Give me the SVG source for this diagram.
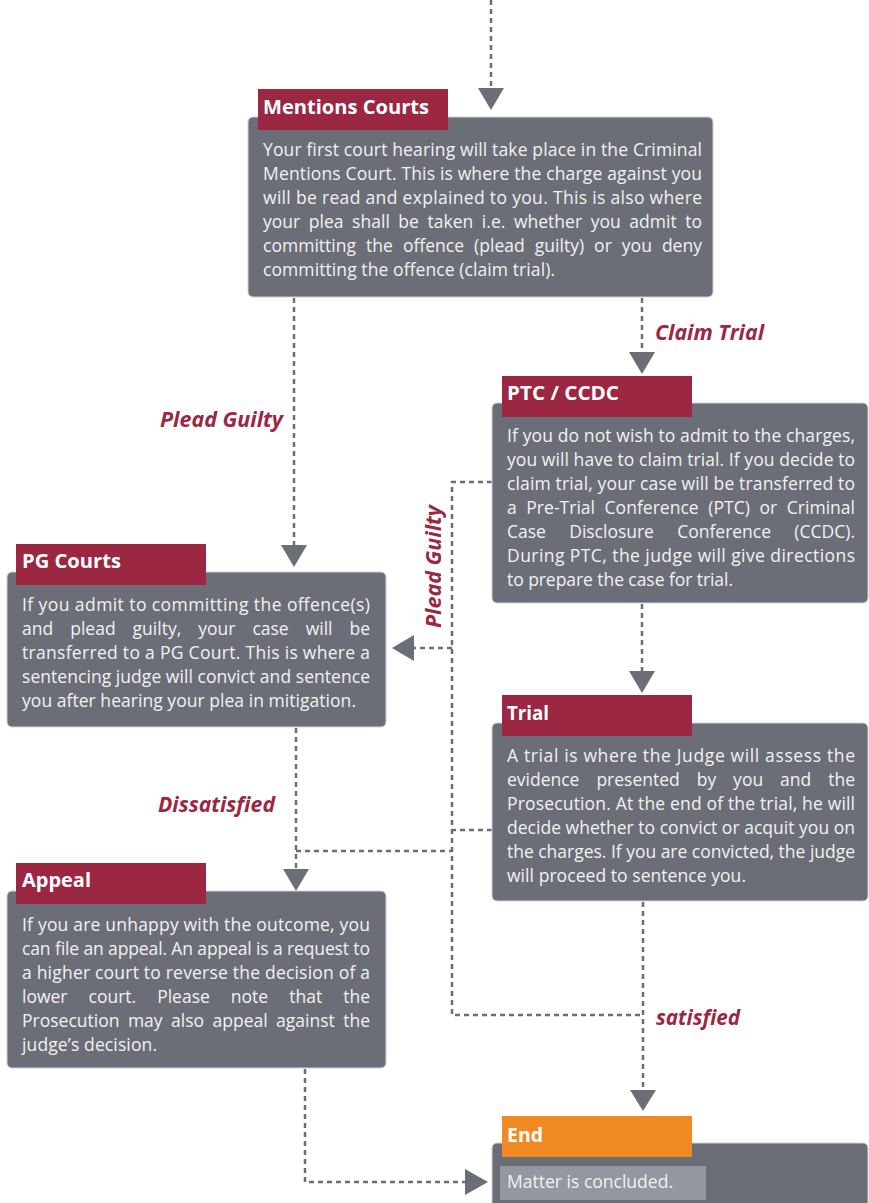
<svg xmlns="http://www.w3.org/2000/svg" width="869" height="1203" viewBox="0 0 869 1203">
<style>
.box{fill:#6b6e76;stroke:#cfd1d4;stroke-width:1}
.ttl{fill:#9b2743}
.t{font-family:"Open Sans","Noto Sans",sans-serif;font-weight:700;font-size:20px;fill:#ffffff}
.b{font-family:"Open Sans","Noto Sans",sans-serif;font-size:17.5px;fill:#f1f1f1}
.lbl{font-family:"Open Sans","Noto Sans",sans-serif;font-weight:700;font-style:italic;font-size:20.5px;fill:#9b2743}
.dash{fill:none;stroke:#6b6e76;stroke-width:2.5;stroke-dasharray:5 4}
.ah{fill:#6b6e76}
</style>
<rect width="869" height="1203" fill="#ffffff"/>
<g id="connectors">
  <path class="dash" d="M491,0 V88"/>
  <polygon class="ah" points="478,88 504,88 491,110"/>
  <path class="dash" d="M294,298 V545"/>
  <polygon class="ah" points="281,545 307,545 294,567"/>
  <text class="lbl" x="160" y="427" textLength="123" lengthAdjust="spacingAndGlyphs">Plead Guilty</text>
  <path class="dash" d="M642,298 V352"/>
  <polygon class="ah" points="629,352 655,352 642,374"/>
  <text class="lbl" x="655" y="340" textLength="109" lengthAdjust="spacingAndGlyphs">Claim Trial</text>
  <path class="dash" d="M492,482 H452 V1015 H643"/>
  <path class="dash" d="M492,830 H452"/>
  <path class="dash" d="M452,648 H414"/>
  <polygon class="ah" points="414,635 414,661 392,648"/>
  <text class="lbl" transform="translate(441,628) rotate(-90)" textLength="123" lengthAdjust="spacingAndGlyphs">Plead Guilty</text>
  <path class="dash" d="M642,604 V671"/>
  <polygon class="ah" points="629,671 655,671 642,693"/>
  <path class="dash" d="M296,728 V869"/>
  <polygon class="ah" points="283,869 309,869 296,891"/>
  <text class="lbl" x="158" y="812" textLength="117" lengthAdjust="spacingAndGlyphs">Dissatisfied</text>
  <path class="dash" d="M296,851 H452"/>
  <path class="dash" d="M643,902 V1090"/>
  <polygon class="ah" points="630,1090 656,1090 643,1111"/>
  <text class="lbl" x="656" y="1025" textLength="84" lengthAdjust="spacingAndGlyphs">satisfied</text>
  <path class="dash" d="M305,1069 V1182 H465"/>
  <polygon class="ah" points="465,1169 465,1195 488,1182"/>
</g>
<g id="mentions">
  <rect class="box" x="248" y="117" width="465" height="180" rx="5"/>
  <rect class="ttl" x="258" y="89" width="190" height="41"/>
  <text class="t" x="263" y="114" textLength="166" lengthAdjust="spacingAndGlyphs">Mentions Courts</text>
  <text class="b" x="263" y="156" textLength="439" lengthAdjust="spacing">Your first court hearing will take place in the Criminal</text>
  <text class="b" x="263" y="180" textLength="439" lengthAdjust="spacing">Mentions Court. This is where the charge against you</text>
  <text class="b" x="263" y="204" textLength="439" lengthAdjust="spacing">will be read and explained to you. This is also where</text>
  <text class="b" x="263" y="228" word-spacing="4" textLength="439" lengthAdjust="spacing">your plea shall be taken i.e. whether you admit to</text>
  <text class="b" x="263" y="252" word-spacing="5.4" textLength="439" lengthAdjust="spacing">committing the offence (plead guilty) or you deny</text>
  <text class="b" x="263" y="276" textLength="292" lengthAdjust="spacing">committing the offence (claim trial).</text>
</g>
<g id="ptc">
  <rect class="box" x="492" y="403" width="376" height="200" rx="5"/>
  <rect class="ttl" x="502" y="376" width="190" height="41"/>
  <text class="t" x="507" y="400" textLength="112" lengthAdjust="spacingAndGlyphs">PTC / CCDC</text>
  <text class="b" x="507" y="442" textLength="348" lengthAdjust="spacing">If you do not wish to admit to the charges,</text>
  <text class="b" x="507" y="466" textLength="348" lengthAdjust="spacing">you will have to claim trial. If you decide to</text>
  <text class="b" x="507" y="490" textLength="348" lengthAdjust="spacing">claim trial, your case will be transferred to</text>
  <text class="b" x="507" y="514" word-spacing="5" textLength="348" lengthAdjust="spacing">a Pre-Trial Conference (PTC) or Criminal</text>
  <text class="b" x="507" y="538" word-spacing="18.8" textLength="348" lengthAdjust="spacing">Case Disclosure Conference (CCDC).</text>
  <text class="b" x="507" y="562" textLength="348" lengthAdjust="spacing">During PTC, the judge will give directions</text>
  <text class="b" x="507" y="586" textLength="226" lengthAdjust="spacing">to prepare the case for trial.</text>
</g>
<g id="pg">
  <rect class="box" x="7" y="572" width="379" height="155" rx="5"/>
  <rect class="ttl" x="16" y="544" width="190" height="41"/>
  <text class="t" x="22" y="568" textLength="99" lengthAdjust="spacingAndGlyphs">PG Courts</text>
  <text class="b" x="22" y="611" textLength="348" lengthAdjust="spacing">If you admit to committing the offence(s)</text>
  <text class="b" x="22" y="635" word-spacing="12.4" textLength="348" lengthAdjust="spacing">and plead guilty, your case will be</text>
  <text class="b" x="22" y="659" textLength="348" lengthAdjust="spacing">transferred to a PG Court. This is where a</text>
  <text class="b" x="22" y="683" textLength="348" lengthAdjust="spacing">sentencing judge will convict and sentence</text>
  <text class="b" x="22" y="707" textLength="334" lengthAdjust="spacing">you after hearing your plea in mitigation.</text>
</g>
<g id="trial">
  <rect class="box" x="492" y="723" width="376" height="178" rx="5"/>
  <rect class="ttl" x="502" y="695" width="190" height="41"/>
  <text class="t" x="507" y="720" textLength="42" lengthAdjust="spacingAndGlyphs">Trial</text>
  <text class="b" x="507" y="762" textLength="348" lengthAdjust="spacing">A trial is where the Judge will assess the</text>
  <text class="b" x="507" y="786" word-spacing="12.4" textLength="348" lengthAdjust="spacing">evidence presented by you and the</text>
  <text class="b" x="507" y="810" textLength="348" lengthAdjust="spacing">Prosecution. At the end of the trial, he will</text>
  <text class="b" x="507" y="834" textLength="348" lengthAdjust="spacing">decide whether to convict or acquit you on</text>
  <text class="b" x="507" y="858" textLength="348" lengthAdjust="spacing">the charges. If you are convicted, the judge</text>
  <text class="b" x="507" y="882" textLength="239" lengthAdjust="spacing">will proceed to sentence you.</text>
</g>
<g id="appeal">
  <rect class="box" x="7" y="891" width="379" height="177" rx="5"/>
  <rect class="ttl" x="16" y="863" width="190" height="41"/>
  <text class="t" x="22" y="887" textLength="69" lengthAdjust="spacingAndGlyphs">Appeal</text>
  <text class="b" x="22" y="931" textLength="348" lengthAdjust="spacing">If you are unhappy with the outcome, you</text>
  <text class="b" x="22" y="955" textLength="348" lengthAdjust="spacing">can file an appeal. An appeal is a request to</text>
  <text class="b" x="22" y="979" textLength="348" lengthAdjust="spacing">a higher court to reverse the decision of a</text>
  <text class="b" x="22" y="1003" word-spacing="16.5" textLength="348" lengthAdjust="spacing">lower court. Please note that the</text>
  <text class="b" x="22" y="1027" word-spacing="3.8" textLength="348" lengthAdjust="spacing">Prosecution may also appeal against the</text>
  <text class="b" x="22" y="1051" textLength="135" lengthAdjust="spacing">judge’s decision.</text>
</g>
<g id="end">
  <rect class="box" x="492" y="1143" width="376" height="80" rx="5"/>
  <rect x="502" y="1116" width="190" height="41" fill="#f28a24"/>
  <text class="t" x="507" y="1142" textLength="36" lengthAdjust="spacingAndGlyphs">End</text>
  <rect x="500" y="1166" width="206" height="34" fill="#9597a0"/>
  <text class="b" x="507" y="1188" textLength="166" lengthAdjust="spacing">Matter is concluded.</text>
</g>
</svg>
